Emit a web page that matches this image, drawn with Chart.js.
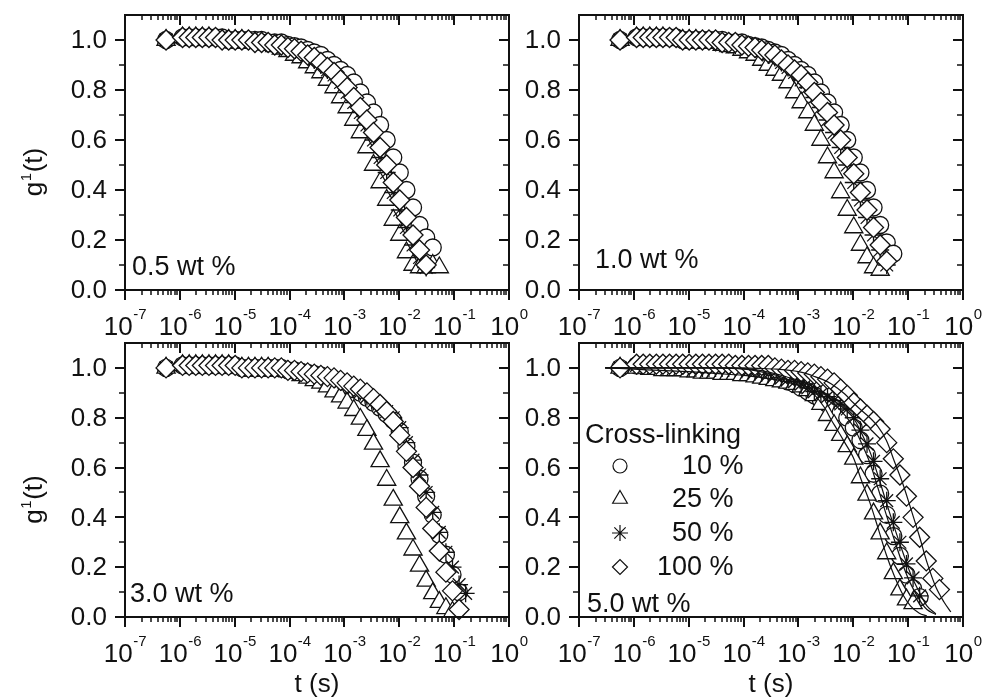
<!DOCTYPE html>
<html>
<head>
<meta charset="utf-8">
<script src="https://cdn.jsdelivr.net/npm/chart.js"></script>
<style>
  html, body { margin: 0; padding: 0; background: #fff; }
  #wrap { position: relative; width: 982px; height: 699px; }
  #wrap canvas { position: absolute; left: 0; top: 0; }
</style>
</head>
<body>
<div id="wrap">
  <canvas id="p0" width="982" height="699"></canvas>
  <canvas id="p1" width="982" height="699"></canvas>
  <canvas id="p2" width="982" height="699"></canvas>
  <canvas id="p3" width="982" height="699"></canvas>
</div>
<script>
// lag times (s), shared by all measured series
const tau = [5.6e-7, 1.12e-6, 1.48e-6, 1.95e-6, 2.57e-6, 3.39e-6, 4.47e-6, 5.89e-6, 7.76e-6,
  1.02e-5, 1.35e-5, 1.78e-5, 2.34e-5, 3.09e-5, 4.07e-5, 5.37e-5, 7.08e-5, 9.33e-5,
  1.23e-4, 1.62e-4, 2.14e-4, 2.82e-4, 3.72e-4, 4.90e-4, 6.46e-4, 8.51e-4,
  1.12e-3, 1.48e-3, 1.95e-3, 2.57e-3, 3.39e-3, 4.47e-3, 5.89e-3, 7.76e-3,
  1.02e-2, 1.35e-2, 1.78e-2, 2.34e-2, 3.09e-2, 4.07e-2, 5.37e-2, 7.08e-2, 9.33e-2,
  0.123, 0.162, 0.214, 0.282, 0.372];

const panelLabels = ['0.5 wt %', '1.0 wt %', '3.0 wt %', '5.0 wt %'];
const seriesNames = ['10 %', '25 %', '50 %', '100 %'];
const yTicks = [0, 0.2, 0.4, 0.6, 0.8, 1.0];
const yTickLabels = ['0.0', '0.2', '0.4', '0.6', '0.8', '1.0'];
const yMinorTicks = [0.1, 0.3, 0.5, 0.7, 0.9];
const xDecades = [-7, -6, -5, -4, -3, -2, -1, 0];

// 0.5 wt %
const c05 = [1.00, 1.01, 1.01, 1.01, 1.01, 1.01, 1.01, 1.01, 1.00, 1.00, 1.00, 1.00, 1.00, 1.00,
  0.99, 0.99, 0.99, 0.98, 0.975, 0.97, 0.96, 0.95, 0.94, 0.92, 0.90, 0.88, 0.86, 0.83, 0.79,
  0.75, 0.71, 0.66, 0.60, 0.53, 0.47, 0.40, 0.33, 0.26, 0.21, 0.17];
const t05 = [1.00, 1.01, 1.01, 1.01, 1.01, 1.01, 1.00, 1.00, 1.00, 1.00, 1.00, 0.99, 0.99, 0.99,
  0.98, 0.975, 0.965, 0.955, 0.94, 0.93, 0.91, 0.89, 0.87, 0.84, 0.81, 0.77, 0.73, 0.68, 0.63,
  0.57, 0.50, 0.43, 0.36, 0.28, 0.22, 0.15, 0.10, 0.09, 0.09, 0.10, 0.09];
const s05 = [1.00, 1.01, 1.01, 1.01, 1.01, 1.01, 1.01, 1.00, 1.00, 1.00, 1.00, 1.00, 0.99, 0.99,
  0.99, 0.98, 0.975, 0.97, 0.96, 0.95, 0.94, 0.92, 0.90, 0.88, 0.86, 0.83, 0.79, 0.75, 0.71,
  0.66, 0.60, 0.53, 0.47, 0.39, 0.32, 0.25, 0.18, 0.13, 0.09];
const d05 = [1.00, 1.01, 1.01, 1.01, 1.01, 1.01, 1.01, 1.00, 1.00, 1.00, 1.00, 1.00, 0.99, 0.99,
  0.99, 0.98, 0.98, 0.97, 0.965, 0.955, 0.94, 0.93, 0.91, 0.89, 0.87, 0.84, 0.81, 0.77, 0.73,
  0.68, 0.63, 0.57, 0.50, 0.43, 0.36, 0.29, 0.22, 0.16, 0.10];

// 1.0 wt %
const c10 = [1.00, 1.01, 1.01, 1.01, 1.01, 1.01, 1.01, 1.01, 1.00, 1.00, 1.00, 1.00, 1.00, 1.00,
  1.00, 0.99, 0.99, 0.99, 0.98, 0.975, 0.97, 0.96, 0.95, 0.94, 0.92, 0.90, 0.88, 0.86, 0.83,
  0.79, 0.75, 0.71, 0.66, 0.60, 0.53, 0.47, 0.40, 0.33, 0.26, 0.19, 0.145];
const t10 = [1.00, 1.01, 1.01, 1.01, 1.01, 1.01, 1.00, 1.00, 1.00, 1.00, 1.00, 0.99, 0.99, 0.99,
  0.98, 0.975, 0.97, 0.96, 0.95, 0.94, 0.92, 0.90, 0.88, 0.86, 0.83, 0.79, 0.75, 0.71, 0.66,
  0.60, 0.53, 0.47, 0.39, 0.32, 0.25, 0.18, 0.13, 0.09, 0.08];
const s10 = [1.00, 1.01, 1.01, 1.01, 1.01, 1.01, 1.01, 1.01, 1.00, 1.00, 1.00, 1.00, 1.00, 0.99,
  0.99, 0.99, 0.98, 0.98, 0.97, 0.965, 0.955, 0.94, 0.93, 0.91, 0.89, 0.87, 0.84, 0.81, 0.77,
  0.73, 0.68, 0.63, 0.57, 0.50, 0.43, 0.36, 0.29, 0.22, 0.16, 0.10];
const d10 = [1.00, 1.01, 1.01, 1.01, 1.01, 1.01, 1.01, 1.01, 1.00, 1.00, 1.00, 1.00, 1.00, 1.00,
  0.99, 0.99, 0.99, 0.98, 0.975, 0.97, 0.96, 0.95, 0.94, 0.92, 0.90, 0.88, 0.86, 0.83, 0.79,
  0.75, 0.71, 0.66, 0.60, 0.53, 0.465, 0.39, 0.32, 0.25, 0.18, 0.115];

// 3.0 wt %
const c30 = [1.00, 1.01, 1.01, 1.01, 1.01, 1.01, 1.01, 1.01, 1.01, 1.01, 1.00, 1.00, 1.00, 1.00,
  1.00, 1.00, 1.00, 0.99, 0.99, 0.985, 0.98, 0.975, 0.97, 0.96, 0.95, 0.94, 0.93, 0.915, 0.90,
  0.88, 0.86, 0.84, 0.815, 0.79, 0.745, 0.685, 0.62, 0.555, 0.485, 0.41, 0.33, 0.25, 0.17, 0.10];
const t30 = [1.00, 1.01, 1.01, 1.01, 1.01, 1.01, 1.01, 1.01, 1.01, 1.00, 1.00, 1.00, 1.00, 1.00,
  1.00, 0.99, 0.99, 0.985, 0.98, 0.97, 0.96, 0.95, 0.94, 0.925, 0.905, 0.885, 0.86, 0.83, 0.795,
  0.75, 0.695, 0.625, 0.55, 0.47, 0.40, 0.335, 0.27, 0.205, 0.145, 0.095, 0.06, 0.035, 0.02];
const s30 = [1.00, 1.01, 1.01, 1.01, 1.01, 1.01, 1.01, 1.01, 1.01, 1.01, 1.00, 1.00, 1.00, 1.00,
  1.00, 1.00, 1.00, 0.995, 0.99, 0.985, 0.98, 0.975, 0.97, 0.965, 0.955, 0.945, 0.935, 0.92, 0.905,
  0.885, 0.865, 0.845, 0.825, 0.80, 0.76, 0.70, 0.63, 0.57, 0.50, 0.42, 0.34, 0.26, 0.20, 0.13, 0.095];
const d30 = [1.00, 1.01, 1.01, 1.01, 1.01, 1.01, 1.01, 1.01, 1.01, 1.01, 1.00, 1.00, 1.00, 1.00,
  1.00, 1.00, 1.00, 0.99, 0.99, 0.985, 0.98, 0.975, 0.97, 0.965, 0.96, 0.95, 0.94, 0.927, 0.915,
  0.90, 0.877, 0.853, 0.825, 0.785, 0.73, 0.665, 0.60, 0.525, 0.44, 0.355, 0.265, 0.18, 0.105, 0.03];

// 5.0 wt %
const c50 = [1.00, 1.01, 1.01, 1.01, 1.01, 1.01, 1.01, 1.01, 1.01, 1.00, 1.00, 1.00, 1.00, 1.00,
  1.00, 1.00, 1.00, 0.99, 0.985, 0.98, 0.975, 0.97, 0.96, 0.955, 0.945, 0.935, 0.92, 0.905, 0.89,
  0.87, 0.855, 0.84, 0.82, 0.80, 0.76, 0.71, 0.65, 0.575, 0.495, 0.41, 0.325, 0.245, 0.17, 0.115, 0.08];
const t50 = [1.00, 1.00, 1.00, 0.995, 0.995, 0.99, 0.99, 0.99, 0.99, 0.985, 0.985, 0.98, 0.98, 0.98,
  0.975, 0.975, 0.975, 0.97, 0.97, 0.965, 0.96, 0.955, 0.95, 0.945, 0.94, 0.935, 0.925, 0.91, 0.89,
  0.855, 0.81, 0.77, 0.73, 0.685, 0.635, 0.56, 0.49, 0.415, 0.335, 0.255, 0.175, 0.11, 0.07, 0.055];
const s50 = [1.00, 1.01, 1.01, 1.01, 1.01, 1.01, 1.01, 1.01, 1.01, 1.00, 1.00, 1.00, 1.00, 1.00,
  1.00, 1.00, 1.00, 0.995, 0.99, 0.985, 0.98, 0.975, 0.97, 0.96, 0.955, 0.945, 0.935, 0.92, 0.905,
  0.895, 0.885, 0.87, 0.855, 0.835, 0.80, 0.75, 0.695, 0.625, 0.555, 0.467, 0.38, 0.30, 0.213, 0.157, 0.085];
const d50 = [1.00, 1.015, 1.015, 1.015, 1.015, 1.015, 1.015, 1.015, 1.015, 1.015, 1.015, 1.015, 1.015,
  1.015, 1.015, 1.015, 1.01, 1.01, 1.01, 1.01, 1.01, 1.01, 1.00, 0.995, 0.99, 0.99, 0.985, 0.98,
  0.975, 0.965, 0.955, 0.94, 0.915, 0.89, 0.86, 0.835, 0.81, 0.785, 0.755, 0.70, 0.635, 0.57,
  0.485, 0.40, 0.32, 0.225, 0.155, 0.11];

// fitted curves shown in the 5.0 wt % panel
const fitTau = [3e-7, 1e-6, 3e-6, 1e-5, 3e-5, 1e-4, 2e-4, 4e-4, 7e-4, 1e-3, 1.5e-3, 2e-3, 3e-3,
  4e-3, 5e-3, 7e-3, 1e-2, 1.4e-2, 2e-2, 2.8e-2, 4e-2, 5.6e-2, 8e-2, 0.11, 0.16, 0.22, 0.32, 0.45, 0.6];
const fitC50 = [1.00, 1.00, 1.00, 1.00, 1.00, 0.995, 0.985, 0.97, 0.95, 0.94, 0.92, 0.905, 0.88,
  0.86, 0.845, 0.81, 0.765, 0.70, 0.62, 0.52, 0.41, 0.31, 0.21, 0.135, 0.07, 0.03, 0.01];
const fitT50 = [1.00, 0.995, 0.99, 0.985, 0.978, 0.97, 0.962, 0.952, 0.94, 0.93, 0.91, 0.89, 0.84,
  0.79, 0.755, 0.70, 0.64, 0.55, 0.46, 0.36, 0.25, 0.165, 0.09, 0.045, 0.015, 0.004];
const fitS50 = [1.00, 1.00, 1.00, 1.00, 1.00, 0.997, 0.99, 0.975, 0.96, 0.95, 0.935, 0.92, 0.895,
  0.875, 0.86, 0.835, 0.80, 0.74, 0.665, 0.57, 0.46, 0.36, 0.26, 0.175, 0.10, 0.045, 0.012];
const fitD50 = [1.00, 1.00, 1.00, 1.00, 1.00, 1.00, 0.998, 0.995, 0.99, 0.985, 0.975, 0.965, 0.95,
  0.935, 0.92, 0.895, 0.86, 0.83, 0.80, 0.765, 0.71, 0.625, 0.535, 0.44, 0.325, 0.22, 0.12, 0.06, 0.02];

const panelSeries = [[c05, t05, s05, d05], [c10, t10, s10, d10], [c30, t30, s30, d30], [c50, t50, s50, d50]];
const panelFits = [[], [], [], [fitC50, fitT50, fitS50, fitD50]];

// layout
const INK = '#111';
const FONT = '"Liberation Sans", Arial, Helvetica, sans-serif';
const F = (s) => s + 'px ' + FONT;
const boxes = [
  { left: 125, top: 15, right: 509, bottom: 290 },
  { left: 579, top: 15, right: 963, bottom: 290 },
  { left: 125, top: 343, right: 509, bottom: 617 },
  { left: 579, top: 343, right: 963, bottom: 617 }
];
const labelPos = [[132, 275], [595, 268], [130, 602], [587, 612]];
const styles = ['circle', 'triangle', 'star', 'rectRot'];
const radii = [8.5, 10.5, 9, 10];
const legendRadii = [7, 8.5, 8, 7.5];

function points(xs, ys) {
  return ys.map((y, i) => ({ x: xs[i], y: y }));
}

function supText(ctx, base, sup, cx, y, baseSize, supSize, rise) {
  ctx.font = F(baseSize);
  const wb = ctx.measureText(base).width;
  ctx.font = F(supSize);
  const ws = ctx.measureText(sup).width;
  const x0 = cx - (wb + ws) / 2;
  ctx.textAlign = 'left';
  ctx.textBaseline = 'alphabetic';
  ctx.font = F(baseSize);
  ctx.fillText(base, x0, y);
  ctx.font = F(supSize);
  ctx.fillText(sup, x0 + wb + 0.5, y - rise);
}

function makeFrame(p) {
  return {
    id: 'frame' + p,
    afterDraw(chart) {
      const ctx = chart.ctx, a = chart.chartArea;
      const xs = chart.scales.x, ys = chart.scales.y;
      ctx.save();
      ctx.strokeStyle = INK;
      ctx.fillStyle = INK;

      // ticks
      const major = new Path2D(), minor = new Path2D();
      xDecades.forEach(e => {
        for (let m = 1; m <= 9; m++) {
          if (e === 0 && m > 1) break;
          const px = Math.round(xs.getPixelForValue(m * Math.pow(10, e)));
          const path = m === 1 ? major : minor;
          const len = m === 1 ? 10 : 5;
          path.moveTo(px, a.bottom); path.lineTo(px, a.bottom + len);
          path.moveTo(px, a.top); path.lineTo(px, a.top + len);
        }
      });
      yTicks.forEach(v => {
        const py = Math.round(ys.getPixelForValue(v));
        major.moveTo(a.left - 10, py); major.lineTo(a.left, py);
        major.moveTo(a.right - 10, py); major.lineTo(a.right, py);
      });
      yMinorTicks.forEach(v => {
        const py = Math.round(ys.getPixelForValue(v));
        minor.moveTo(a.left - 6, py); minor.lineTo(a.left, py);
        minor.moveTo(a.right - 6, py); minor.lineTo(a.right, py);
      });
      ctx.lineWidth = 2; ctx.stroke(major);
      ctx.lineWidth = 1.5; ctx.stroke(minor);
      ctx.lineWidth = 2;
      ctx.strokeRect(a.left, a.top, a.right - a.left, a.bottom - a.top);

      // tick labels
      ctx.font = F(26);
      ctx.textAlign = 'right';
      ctx.textBaseline = 'middle';
      yTicks.forEach((v, i) => ctx.fillText(yTickLabels[i], a.left - 18, ys.getPixelForValue(v) + 1));
      xDecades.forEach(e => supText(ctx, '10', String(e), xs.getPixelForValue(Math.pow(10, e)), a.bottom + 45, 26, 15, 16));

      // axis titles
      if (p % 2 === 0) {
        ctx.save();
        ctx.translate(42, (a.top + a.bottom) / 2 + 20);
        ctx.rotate(-Math.PI / 2);
        ctx.font = F(26);
        const wg = ctx.measureText('g').width, wt = ctx.measureText('(t)').width;
        ctx.font = F(15);
        const w1 = ctx.measureText('1').width;
        const x0 = -(wg + w1 + wt) / 2;
        ctx.textAlign = 'left'; ctx.textBaseline = 'alphabetic';
        ctx.font = F(26); ctx.fillText('g', x0, 0);
        ctx.font = F(15); ctx.fillText('1', x0 + wg + 0.5, -11);
        ctx.font = F(26); ctx.fillText('(t)', x0 + wg + w1 + 1, 0);
        ctx.restore();
      }
      if (p >= 2) {
        ctx.font = F(26);
        ctx.textAlign = 'center'; ctx.textBaseline = 'alphabetic';
        ctx.fillText('t (s)', (a.left + a.right) / 2, a.bottom + 75);
      }

      // panel label
      ctx.font = F(27);
      ctx.textAlign = 'left'; ctx.textBaseline = 'alphabetic';
      ctx.fillText(panelLabels[p], labelPos[p][0], labelPos[p][1]);

      // legend in the last panel
      if (p === 3) {
        ctx.fillText('Cross-linking', 585, 443);
        const rowY = [466, 499, 533, 567];
        const textX = [682, 672, 672, 657];
        seriesNames.forEach((name, j) => {
          ctx.save();
          ctx.fillStyle = '#fff';
          ctx.strokeStyle = INK;
          ctx.lineWidth = 1.2;
          if (Chart.helpers && Chart.helpers.drawPoint) {
            Chart.helpers.drawPoint(ctx, { pointStyle: styles[j], radius: legendRadii[j], rotation: 0, borderWidth: 1.2 }, 620, rowY[j]);
          }
          ctx.restore();
          ctx.fillText(name, textX[j], rowY[j] + 8);
        });
      }
      ctx.restore();
    }
  };
}

panelSeries.forEach((series, p) => {
  const b = boxes[p];
  const datasets = series.map((ys, j) => ({
    label: seriesNames[j],
    data: points(tau, ys),
    showLine: false,
    pointStyle: styles[j],
    pointRadius: radii[j],
    pointHoverRadius: radii[j],
    pointBorderColor: INK,
    pointBackgroundColor: j === 2 ? 'rgba(0,0,0,0)' : '#fff',
    pointBorderWidth: 1.3,
    order: 4 - j,
    clip: false
  }));
  panelFits[p].forEach((ys, j) => {
    datasets.push({
      label: 'fit ' + seriesNames[j],
      data: points(fitTau, ys),
      showLine: true,
      pointRadius: 0,
      borderColor: INK,
      borderWidth: 1.2,
      tension: 0.35,
      order: 0
    });
  });

  new Chart(document.getElementById('p' + p), {
    type: 'scatter',
    data: { datasets: datasets },
    options: {
      responsive: false,
      animation: false,
      devicePixelRatio: 1,
      events: [],
      layout: { padding: { left: b.left, top: b.top, right: 982 - b.right, bottom: 699 - b.bottom } },
      scales: {
        x: { type: 'logarithmic', min: 1e-7, max: 1, display: false },
        y: { type: 'linear', min: 0, max: 1.1, display: false }
      },
      plugins: { legend: { display: false }, tooltip: { enabled: false } }
    },
    plugins: [makeFrame(p)]
  });
});
</script>
</body>
</html>
